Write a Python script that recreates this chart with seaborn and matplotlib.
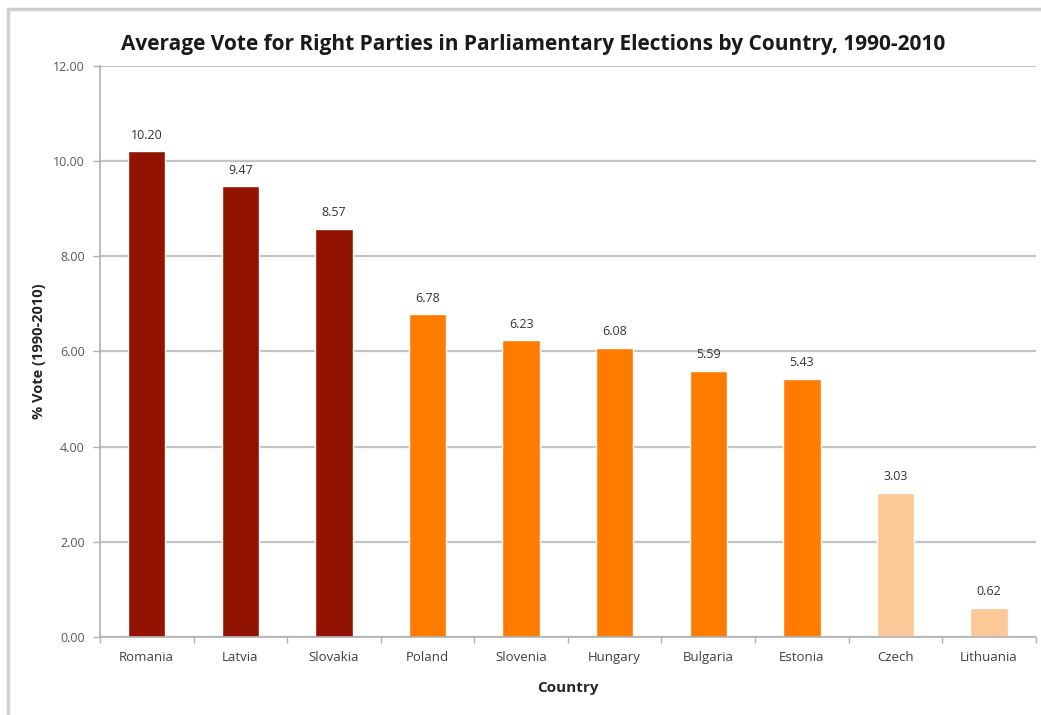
import numpy as np
import matplotlib
matplotlib.use("Agg")
import matplotlib.pyplot as plt
import seaborn as sns
from matplotlib.lines import Line2D

countries = ["Romania", "Latvia", "Slovakia", "Poland", "Slovenia", "Hungary",
             "Bulgaria", "Estonia", "Czech", "Lithuania"]
votes = [10.20, 9.47, 8.57, 6.78, 6.23, 6.08, 5.59, 5.43, 3.03, 0.62]
bar_colors = ["#911300", "#911300", "#911300", "#FF7C00", "#FF7C00", "#FF7C00",
              "#FF7C00", "#FF7C00", "#FDC999", "#FDC999"]
yticks = [0, 2, 4, 6, 8, 10, 12]

sns.set_theme(style="white")
plt.rcParams["font.family"] = ["Open Sans", "DejaVu Sans"]

fig = plt.figure(figsize=(10.41, 7.15), dpi=100)
ax = fig.add_axes([0.096, 0.109, 0.899, 0.799])

sns.barplot(x=countries, y=votes, hue=countries, palette=bar_colors,
            legend=False, width=0.4, saturation=1, ax=ax)

ax.set_ylim(0, 12)
ax.set_xlim(-0.5, len(countries) - 0.5)
ax.set_yticks(yticks)
ax.set_yticklabels([f"{v:.2f}" for v in yticks], fontsize=9, color="#595959")
ax.tick_params(axis="y", length=5, width=1, color="#b0b0b0", pad=6, left=True)
ax.tick_params(axis="x", which="major", length=0, pad=10, labelsize=9.5, labelcolor="#404040")
ax.set_xticks(np.arange(-0.5, len(countries), 1), minor=True)
ax.tick_params(axis="x", which="minor", length=4, width=1, color="#b0b0b0", bottom=True)

ax.grid(axis="y", color="#c4c4c4", linewidth=1.6)
ax.set_axisbelow(True)
for s in ["top", "right"]:
    ax.spines[s].set_visible(False)
for s in ["left", "bottom"]:
    ax.spines[s].set_color("#b0b0b0")
    ax.spines[s].set_linewidth(1.2)

for c in ax.containers:
    ax.bar_label(c, fmt="%.2f", padding=7, fontsize=9, color="#333333")

ax.set_xlabel("Country", fontsize=11, fontweight="bold", labelpad=12)
ax.set_ylabel("% Vote (1990-2010)", fontsize=10.5, fontweight="bold", labelpad=5)
fig.text(0.512, 0.938, "Average Vote for Right Parties in Parliamentary Elections by Country, 1990-2010",
         ha="center", va="center", fontsize=15, fontweight="bold", color="#1a1a1a")

fig.add_artist(Line2D([0.008, 1.0], [0.988, 0.988], transform=fig.transFigure,
                      color="#d0d0d0", linewidth=2.5))
fig.add_artist(Line2D([0.008, 0.008], [0.0, 0.988], transform=fig.transFigure,
                      color="#d0d0d0", linewidth=2.5))

fig.savefig("out.png", dpi=100, facecolor="white")
